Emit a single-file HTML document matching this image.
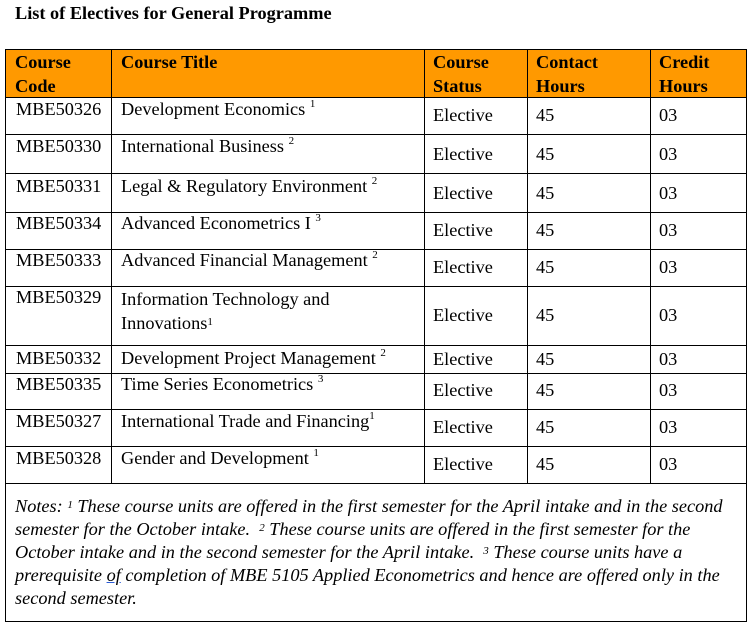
<!DOCTYPE html>
<html><head><meta charset="utf-8"><style>
body{margin:0;width:749px;height:623px;background:#fff;position:relative;font-family:"Liberation Serif",serif;font-size:18.3px;color:#000;overflow:hidden}
.a{position:absolute;white-space:nowrap;margin-top:1px}
.h{position:absolute;left:5px;top:49px;width:741px;height:48px;background:#FF9900}
.vl{position:absolute;width:1px;background:#000}
.hl{position:absolute;left:5px;width:742px;height:1px;background:#000}
sup{font-size:11px;vertical-align:top;position:relative;top:-1px}
</style></head><body>
<div class="a" style="left:15px;top:2px;font-weight:bold">List of Electives for General Programme</div>
<div class="h"></div>
<div class="hl" style="top:49px"></div>
<div class="hl" style="top:97px"></div>
<div class="hl" style="top:134px"></div>
<div class="hl" style="top:173px"></div>
<div class="hl" style="top:212px"></div>
<div class="hl" style="top:249px"></div>
<div class="hl" style="top:286px"></div>
<div class="hl" style="top:345px"></div>
<div class="hl" style="top:373px"></div>
<div class="hl" style="top:409px"></div>
<div class="hl" style="top:446px"></div>
<div class="hl" style="top:483px"></div>
<div class="hl" style="top:621px"></div>
<div class="vl" style="left:5px;top:49px;height:573px"></div>
<div class="vl" style="left:746px;top:49px;height:573px"></div>
<div class="vl" style="left:111px;top:49px;height:434px"></div>
<div class="vl" style="left:424px;top:49px;height:434px"></div>
<div class="vl" style="left:527px;top:49px;height:434px"></div>
<div class="vl" style="left:650px;top:49px;height:434px"></div>
<div class="a" style="left:15px;top:49px;line-height:24px;font-weight:bold">Course<br>Code</div>
<div class="a" style="left:121px;top:49px;line-height:24px;font-weight:bold">Course Title</div>
<div class="a" style="left:433px;top:49px;line-height:24px;font-weight:bold">Course<br>Status</div>
<div class="a" style="left:536px;top:49px;line-height:24px;font-weight:bold">Contact<br>Hours</div>
<div class="a" style="left:659px;top:49px;line-height:24px;font-weight:bold">Credit<br>Hours</div>

<div class="a" style="left:16px;top:98px">MBE50326</div><div class="a" style="left:121px;top:98px">Development Economics <sup>1</sup></div>
<div class="a" style="left:433px;top:104px">Elective</div><div class="a" style="left:536px;top:104px">45</div><div class="a" style="left:659px;top:104px">03</div>

<div class="a" style="left:16px;top:135px">MBE50330</div><div class="a" style="left:121px;top:135px">International Business <sup>2</sup></div>
<div class="a" style="left:433px;top:143px">Elective</div><div class="a" style="left:536px;top:143px">45</div><div class="a" style="left:659px;top:143px">03</div>

<div class="a" style="left:16px;top:175px">MBE50331</div><div class="a" style="left:121px;top:175px">Legal &amp; Regulatory Environment <sup>2</sup></div>
<div class="a" style="left:433px;top:182px">Elective</div><div class="a" style="left:536px;top:182px">45</div><div class="a" style="left:659px;top:182px">03</div>

<div class="a" style="left:16px;top:212px">MBE50334</div><div class="a" style="left:121px;top:212px">Advanced Econometrics I <sup>3</sup></div>
<div class="a" style="left:433px;top:219px">Elective</div><div class="a" style="left:536px;top:219px">45</div><div class="a" style="left:659px;top:219px">03</div>

<div class="a" style="left:16px;top:249px">MBE50333</div><div class="a" style="left:121px;top:249px">Advanced Financial Management <sup>2</sup></div>
<div class="a" style="left:433px;top:256px">Elective</div><div class="a" style="left:536px;top:256px">45</div><div class="a" style="left:659px;top:256px">03</div>

<div class="a" style="left:16px;top:286px">MBE50329</div><div class="a" style="left:121px;top:286px;line-height:24px">Information Technology and<br>Innovations<sup>1</sup></div>
<div class="a" style="left:433px;top:304px">Elective</div><div class="a" style="left:536px;top:304px">45</div><div class="a" style="left:659px;top:304px">03</div>

<div class="a" style="left:16px;top:347px">MBE50332</div><div class="a" style="left:121px;top:347px">Development Project Management <sup>2</sup></div>
<div class="a" style="left:433px;top:348px">Elective</div><div class="a" style="left:536px;top:348px">45</div><div class="a" style="left:659px;top:348px">03</div>

<div class="a" style="left:16px;top:373px">MBE50335</div><div class="a" style="left:121px;top:373px">Time Series Econometrics <sup>3</sup></div>
<div class="a" style="left:433px;top:379px">Elective</div><div class="a" style="left:536px;top:379px">45</div><div class="a" style="left:659px;top:379px">03</div>

<div class="a" style="left:16px;top:410px">MBE50327</div><div class="a" style="left:121px;top:410px">International Trade and Financing<sup>1</sup></div>
<div class="a" style="left:433px;top:416px">Elective</div><div class="a" style="left:536px;top:416px">45</div><div class="a" style="left:659px;top:416px">03</div>

<div class="a" style="left:16px;top:447px">MBE50328</div><div class="a" style="left:121px;top:447px">Gender and Development <sup>1</sup></div>
<div class="a" style="left:433px;top:453px">Elective</div><div class="a" style="left:536px;top:453px">45</div><div class="a" style="left:659px;top:453px">03</div>

<div class="a" style="left:15px;top:494px;line-height:23px;font-style:italic">Notes: <sup>1</sup> These course units are offered in the first semester for the April intake and in the second<br>semester for the October intake.&nbsp; <sup>2</sup> These course units are offered in the first semester for the<br>October intake and in the second semester for the April intake.&nbsp; <sup>3</sup> These course units have a<br>prerequisite <span style="text-decoration:underline;text-decoration-color:#2a5bd7">of</span> completion of MBE 5105 Applied Econometrics and hence are offered only in the<br>second semester.</div>
</body></html>
